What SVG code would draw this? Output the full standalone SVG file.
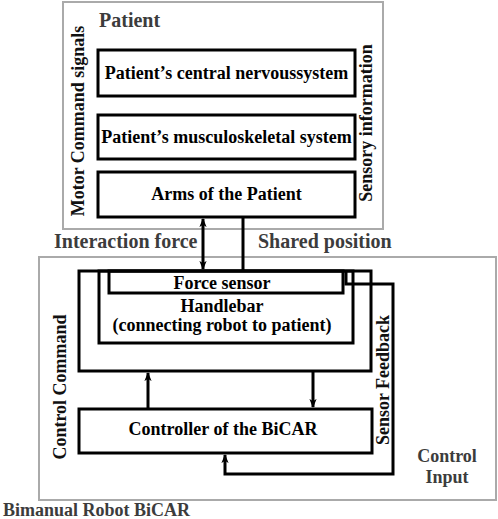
<svg xmlns="http://www.w3.org/2000/svg" width="498" height="519" viewBox="0 0 498 519">
<style>
text{font-family:"Liberation Serif","Times New Roman",serif;font-weight:bold;}
.lbl{font-size:18px;fill:#000;}
.cap{font-size:20px;fill:#3c3c3c;}
.cap18{font-size:18px;fill:#3c3c3c;}
.vt{font-size:18px;fill:#111;}
.grp{fill:none;stroke:#aaaaaa;stroke-width:2;}
.blk{fill:none;stroke:#000;stroke-width:3;}
.ln{fill:none;stroke:#000;stroke-width:3;}
</style>
<defs>
<marker id="ah" viewBox="0 0 10 8" refX="9" refY="4" markerWidth="9" markerHeight="8" markerUnits="userSpaceOnUse" orient="auto-start-reverse">
<path d="M0,0 L10,4 L0,8 L2.5,4 Z" fill="#000"/>
</marker>
</defs>
<rect fill="#fff" x="0" y="0" width="498" height="519"/>

<g id="patient-group">
<rect class="grp" x="63" y="2" width="320" height="227"/>
<text class="cap" x="99" y="27">Patient</text>
<text class="vt" text-anchor="middle" transform="translate(84,121) rotate(-90)">Motor Command signals</text>
<text class="vt" text-anchor="middle" transform="translate(372,123) rotate(-90)">Sensory information</text>
</g>

<g id="cns">
<rect class="blk" x="98" y="50" width="257" height="46"/>
<text class="lbl" x="226.5" y="79" text-anchor="middle">Patient’s central nervoussystem</text>
</g>
<g id="musculoskeletal">
<rect class="blk" x="98" y="115" width="257" height="44"/>
<text class="lbl" x="226.5" y="143" text-anchor="middle">Patient’s musculoskeletal system</text>
</g>
<g id="arms">
<rect class="blk" x="98" y="172" width="257" height="45"/>
<text class="lbl" x="226.5" y="200" text-anchor="middle">Arms of the Patient</text>
</g>

<g id="robot-group">
<rect class="grp" x="39" y="257" width="457" height="243"/>
<text class="cap18" x="3" y="516">Bimanual Robot BiCAR</text>
<text class="vt" text-anchor="middle" transform="translate(66,387) rotate(-90)">Control Command</text>
<text class="vt" text-anchor="middle" transform="translate(389,380) rotate(-90)">Sensor Feedback</text>
<text class="cap18" x="447" y="462" text-anchor="middle">Control</text>
<text class="cap18" x="447" y="483" text-anchor="middle">Input</text>
</g>

<g id="robot">
<rect class="blk" x="79" y="271" width="292" height="100"/>
</g>
<g id="handlebar">
<rect class="blk" x="99" y="271" width="254" height="72"/>
<text class="lbl" x="222" y="312" text-anchor="middle">Handlebar</text>
<text class="lbl" x="222" y="331" text-anchor="middle">(connecting robot to patient)</text>
</g>
<g id="force-sensor">
<rect class="blk" x="109" y="271" width="234" height="22"/>
<text class="lbl" x="222" y="289" text-anchor="middle">Force sensor</text>
</g>
<g id="controller">
<rect class="blk" x="79" y="409" width="293" height="44"/>
<text class="lbl" x="223" y="435" text-anchor="middle">Controller of the BiCAR</text>
</g>

<g id="connectors">
<line class="ln" x1="203" y1="219" x2="203" y2="269" marker-start="url(#ah)" marker-end="url(#ah)"/>
<line class="ln" x1="243" y1="217" x2="243" y2="271"/>
<text class="cap" x="54" y="248">Interaction force</text>
<text class="cap" x="258" y="248">Shared position</text>
<line class="ln" x1="148" y1="409" x2="148" y2="373" marker-end="url(#ah)"/>
<line class="ln" x1="313" y1="371" x2="313" y2="407" marker-end="url(#ah)"/>
<polyline class="ln" points="346,271 346,284 393,284 393,474 225,474 225,455" marker-end="url(#ah)"/>
</g>
</svg>
